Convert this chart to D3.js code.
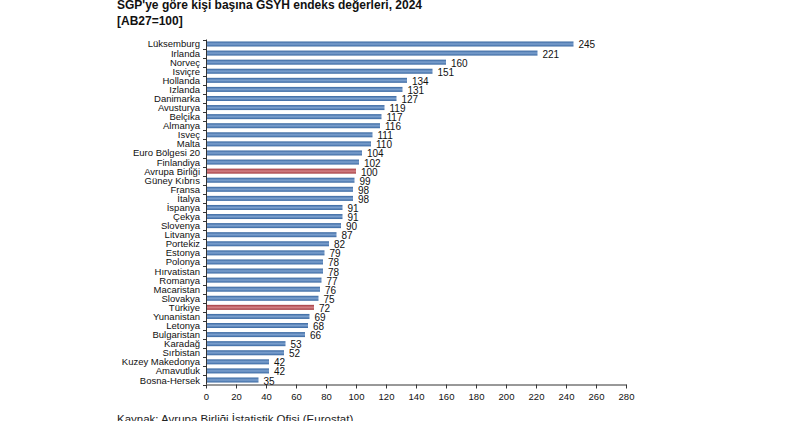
<!DOCTYPE html>
<html><head><meta charset="utf-8">
<script src="https://cdn.jsdelivr.net/npm/d3@7"></script>
<style>body{margin:0;background:#fff;}svg{display:block;font-family:Arial,"Liberation Sans",sans-serif;}</style>
</head><body>
<script>
const categories = ["Lüksemburg","Irlanda","Norveç","Isviçre","Hollanda","Izlanda","Danimarka","Avusturya","Belçika","Almanya","Isveç","Malta","Euro Bölgesi 20","Finlandiya","Avrupa Birliği","Güney Kıbrıs","Fransa","İtalya","İspanya","Çekya","Slovenya","Litvanya","Portekiz","Estonya","Polonya","Hırvatistan","Romanya","Macaristan","Slovakya","Türkiye","Yunanistan","Letonya","Bulgaristan","Karadağ","Sırbistan","Kuzey Makedonya","Amavutluk","Bosna-Hersek"];
const values = [245,221,160,151,134,131,127,119,117,116,111,110,104,102,100,99,98,98,91,91,90,87,82,79,78,78,77,76,75,72,69,68,66,53,52,42,42,35];
const highlighted = ["Avrupa Birliği","Türkiye"];
const xTicks = [0,20,40,60,80,100,120,140,160,180,200,220,240,260,280];
const titleLines = ["SGP'ye göre kişi başına GSYH endeks değerleri, 2024","[AB27=100]"];
const sourceText = "Kaynak: Avrupa Birliği İstatistik Ofisi (Eurostat)";

const W=800,H=421;
const svg=d3.select("body").append("svg").attr("width",W).attr("height",H);
const defs=svg.append("defs");
function grad(id,edge,mid){
  const g=defs.append("linearGradient").attr("id",id).attr("x1",0).attr("x2",0).attr("y1",0).attr("y2",1);
  g.append("stop").attr("offset","0%").attr("stop-color",edge);
  g.append("stop").attr("offset","50%").attr("stop-color",mid);
  g.append("stop").attr("offset","100%").attr("stop-color",edge);
}
grad("gb","#3766a0","#7da1cf");
grad("gr","#a33a3f","#d48286");

const x=d3.scaleLinear().domain([0,280]).range([206,626]);
const y=d3.scaleBand().domain(categories).range([39.5,384.5]).paddingInner(0.45).paddingOuter(0.22);

svg.append("g").selectAll("text").data(titleLines).join("text")
  .attr("x",117).attr("y",(d,i)=>9+i*16).attr("font-size",12).attr("font-weight","bold").attr("fill","#111").text(d=>d);

// bars
svg.append("g").selectAll("rect").data(categories).join("rect")
  .attr("x",x(0)).attr("y",d=>y(d)).attr("height",y.bandwidth())
  .attr("width",(d,i)=>x(values[i])-x(0))
  .attr("fill",d=>highlighted.includes(d)?"url(#gr)":"url(#gb)");

// value labels
svg.append("g").selectAll("text").data(categories).join("text")
  .attr("x",(d,i)=>x(values[i])+5).attr("y",d=>y(d)+y.bandwidth()/2+4.5)
  .attr("font-size",10).attr("fill","#111").text((d,i)=>values[i]);

// y axis
const ya=svg.append("g");
ya.append("line").attr("x1",206.5).attr("x2",206.5).attr("y1",39.5).attr("y2",384.5).attr("stroke","#333");
ya.selectAll("line.t").data(d3.range(categories.length+1)).join("line").attr("class","t")
  .attr("x1",203).attr("x2",206.5)
  .attr("y1",i=>Math.round(39.5+i*(345/categories.length))+0.5)
  .attr("y2",i=>Math.round(39.5+i*(345/categories.length))+0.5).attr("stroke","#333");
ya.selectAll("text").data(categories).join("text")
  .attr("x",200).attr("y",d=>y(d)+y.bandwidth()/2+3.5).attr("text-anchor","end")
  .attr("font-size",9.5).attr("fill","#111").text(d=>d);

// x axis
const xa=svg.append("g").attr("transform","translate(0,384.5)")
  .call(d3.axisBottom(x).tickValues(xTicks).tickSize(4).tickSizeOuter(0));
xa.select(".domain").attr("stroke","#333");
xa.selectAll(".tick line").attr("stroke","#333");
xa.selectAll(".tick text").attr("font-size",9.5).attr("fill","#111").attr("font-family","Arial,'Liberation Sans',sans-serif").attr("dy","0.9em");

svg.append("text").attr("x",117).attr("y",423).attr("font-size",11.5).attr("fill","#222").text(sourceText);
</script>
</body></html>
